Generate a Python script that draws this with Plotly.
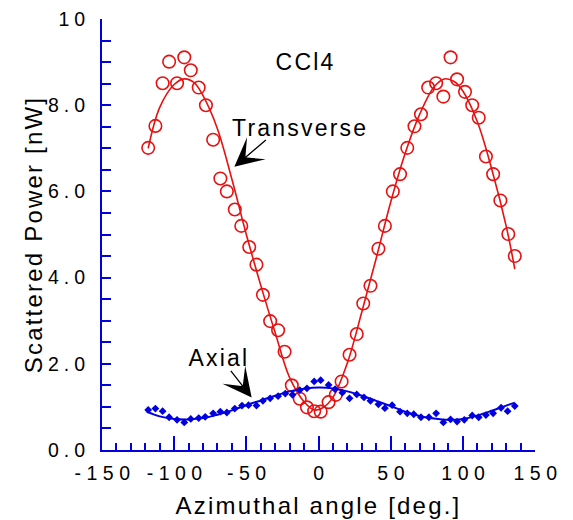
import plotly.graph_objects as go

# ---- data ----
trans_angle = [-118, -113, -108, -103.5, -98, -93, -88.5, -83, -78, -73, -68, -63.5,
               -58, -53.5, -48, -43, -38.5, -33.5, -28, -23.5, -18.5, -13, -8, -3, 1.5,
               7, 12, 16, 21.5, 26.5, 31, 36, 41.5, 46, 51.5, 56.5, 61.5, 66.5, 71,
               76, 81.5, 86.5, 91.5, 96, 101.5, 106.5, 111, 116, 121, 126, 131.5, 136]
trans_power = [7.01, 7.52, 8.51, 9.01, 8.51, 9.11, 8.81, 8.41, 8.0, 7.2, 6.3, 6.0,
               5.58, 5.2, 4.71, 4.30, 3.60, 2.99, 2.78, 2.28, 1.50, 1.19, 0.99, 0.90, 0.89,
               1.11, 1.28, 1.59, 2.21, 2.69, 3.40, 3.81, 4.67, 5.20, 6.00, 6.40, 7.01, 7.51, 7.79,
               8.41, 8.51, 8.20, 9.11, 8.60, 8.31, 8.00, 7.71, 6.81, 6.40, 5.79, 5.01, 4.50]

trans_fit_angle = [-118, -110, -100, -93, -86, -80, -70, -60, -50, -40, -30, -20, -10,
                   -3, 3, 10, 20, 30, 40, 50, 60, 70, 80, 87, 94, 100, 110, 120, 130, 136]
trans_fit_power = [7.0, 7.95, 8.48, 8.61, 8.52, 8.22, 7.45, 6.28, 5.0, 3.82, 2.72, 1.68, 1.12,
                   0.93, 0.98, 1.22, 2.02, 3.2, 4.45, 5.75, 6.88, 7.78, 8.42, 8.61, 8.55, 8.33,
                   7.62, 6.52, 5.2, 4.2]

axial_angle = [-118, -113, -108, -103.5, -98, -93, -88.5, -83, -78.5, -73, -68, -63.5,
               -58, -53, -48.5, -43, -38.5, -33.5, -28, -23, -18, -13, -8, -3, 1.5,
               7, 11.5, 16.5, 21.5, 26.5, 31.5, 36, 41.5, 46, 51, 56.5, 61.5, 66, 71,
               76.5, 81.5, 86.5, 91.5, 96, 101, 106.5, 111, 116, 121, 126.5, 131, 136]
axial_power = [0.93, 0.96, 0.90, 0.76, 0.70, 0.64, 0.72, 0.74, 0.77, 0.85, 0.89, 0.87,
               0.96, 1.03, 1.04, 1.03, 1.14, 1.20, 1.25, 1.31, 1.28, 1.39, 1.43, 1.59, 1.62,
               1.51, 1.41, 1.33, 1.20, 1.29, 1.22, 1.14, 1.06, 0.97, 1.04, 0.89, 0.85, 0.83, 0.76,
               0.76, 0.85, 0.64, 0.71, 0.66, 0.70, 0.80, 0.76, 0.81, 0.85, 0.98, 0.90, 1.02]

axial_fit_angle = [-119, -110, -100, -90, -80, -70, -60, -50, -40, -30, -20, -10, 0,
                   10, 20, 30, 40, 50, 60, 70, 80, 90, 100, 110, 120, 130, 136]
axial_fit_power = [0.89, 0.78, 0.72, 0.71, 0.74, 0.82, 0.92, 1.04, 1.15, 1.26, 1.36, 1.42, 1.45,
                   1.43, 1.36, 1.26, 1.14, 1.02, 0.89, 0.79, 0.73, 0.70, 0.72, 0.80, 0.91, 1.03, 1.10]

x_tickvals = [-150, -100, -50, 0, 50, 100, 150]
x_ticktext = ["-150", "-100", "-50", "0", "50", "100", "150"]
y_tickvals = [0, 2, 4, 6, 8, 10]
y_ticktext = ["0.0", "2.0", "4.0", "6.0", "8.0", "10"]

RED = "rgb(232,16,16)"
BLUE = "rgb(0,0,225)"
FONT = "Liberation Sans, Arial, sans-serif"

fig = go.Figure()
fig.add_trace(go.Scatter(x=trans_fit_angle, y=trans_fit_power, mode="lines",
                         line=dict(color=RED, width=1.6, shape="spline", smoothing=1.0),
                         showlegend=False, hoverinfo="skip"))
fig.add_trace(go.Scatter(x=trans_angle, y=trans_power, mode="markers",
                         marker=dict(symbol="circle-open", size=12.5, color=RED,
                                     line=dict(width=1.6, color=RED)),
                         showlegend=False))
fig.add_trace(go.Scatter(x=axial_fit_angle, y=axial_fit_power, mode="lines",
                         line=dict(color=BLUE, width=2, shape="spline", smoothing=1.0),
                         showlegend=False, hoverinfo="skip"))
fig.add_trace(go.Scatter(x=axial_angle, y=axial_power, mode="markers",
                         marker=dict(symbol="diamond", size=6, color=BLUE),
                         showlegend=False))


def px_to_data(px, py):
    # pixel position in the 573x520 picture -> data coordinates
    return (px - 318.5) / 1.4433, (450 - py) / 43.1


# text labels
for label, (px, py) in [("CCl4", (305, 62)), ("Transverse", (300, 128)), ("Axial", (219, 358))]:
    dx, dy = px_to_data(px, py)
    fig.add_annotation(x=dx, y=dy, text=label, showarrow=False,
                       font=dict(size=23, color="black", family=FONT))
# arrows
fig.add_annotation(x=-58.3, y=6.57, text="", showarrow=True, ax=33, ay=-28,
                   arrowhead=3, arrowsize=3.7, arrowwidth=1.3, arrowcolor="black")
fig.add_annotation(x=-46.3, y=1.22, text="", showarrow=True, ax=-22, ay=-28,
                   arrowhead=3, arrowsize=3.7, arrowwidth=1.3, arrowcolor="black")

fig.update_layout(
    width=573, height=520,
    margin=dict(l=102, r=38, t=19, b=70),
    plot_bgcolor="white", paper_bgcolor="white",
    font=dict(family=FONT, color="black", size=18),
    xaxis=dict(range=[-150, 150], tickvals=x_tickvals, ticktext=x_ticktext,
               ticks="inside", ticklen=14, tickwidth=1.5, tickcolor=BLUE,
               showline=True, linecolor=BLUE, linewidth=2, showgrid=False, zeroline=False,
               minor=dict(dtick=10, ticks="inside", ticklen=7, tickwidth=1.5, tickcolor=BLUE,
                          showgrid=False),
               tickfont=dict(size=19.5, color="black"), ticklabelstandoff=5,
               automargin=False,
               title=dict(text="Azimuthal angle [deg.]", font=dict(size=24, color="black"),
                          standoff=14)),
    yaxis=dict(range=[0, 10], tickvals=y_tickvals, ticktext=y_ticktext,
               ticks="inside", ticklen=9, tickwidth=1.5, tickcolor=BLUE,
               showline=True, linecolor=BLUE, linewidth=2, showgrid=False, zeroline=False,
               minor=dict(dtick=0.5, ticks="inside", ticklen=9, tickwidth=1.5, tickcolor=BLUE,
                          showgrid=False),
               tickfont=dict(size=19.5, color="black"), ticklabelstandoff=6,
               automargin=False,
               title=dict(text="Scattered Power [nW]", font=dict(size=24, color="black"),
                          standoff=14)),
)

# widen letter spacing of the texts, as in the reference typesetting
post = """
var gd = document.getElementById('{plot_id}');
function spaceText(){
  gd.querySelectorAll('.xtick text').forEach(function(t){t.style.letterSpacing='5.5px'; t.setAttribute('dx','3');});
  gd.querySelectorAll('.ytick text').forEach(function(t){t.style.letterSpacing='5px';});
  gd.querySelectorAll('.g-xtitle text, .g-ytitle text, .annotation-text').forEach(function(t){t.style.letterSpacing='2.2px';});
}
spaceText();
setTimeout(spaceText, 0);
"""

fig.write_html("out.html", post_script=post)
